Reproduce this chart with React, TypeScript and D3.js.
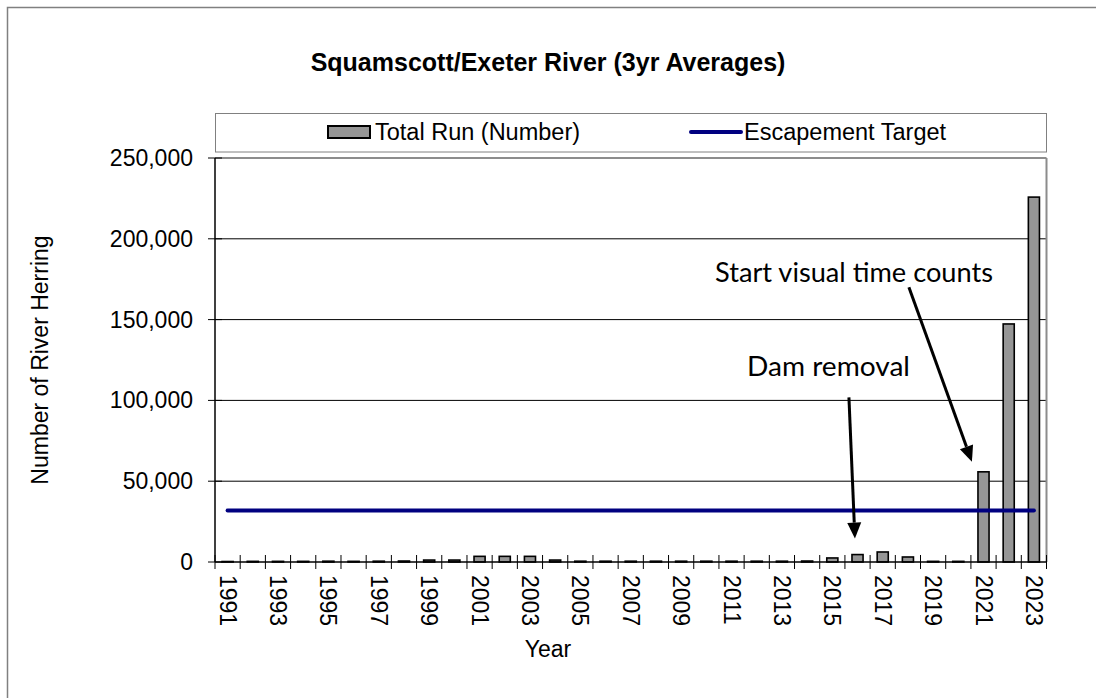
import React from "react";
import * as d3 from "d3";

const years = ["1991","1992","1993","1994","1995","1996","1997","1998","1999","2000","2001","2002","2003","2004","2005","2006","2007","2008","2009","2010","2011","2012","2013","2014","2015","2016","2017","2018","2019","2020","2021","2022","2023"];
const totalRun = [300,400,400,400,500,400,500,600,1200,1200,3500,3500,3500,1200,500,500,500,500,500,500,500,500,500,600,2500,4600,6200,3100,400,400,55800,147300,225800];
const escapementTarget = 31800;
const yTicks = [0, 50000, 100000, 150000, 200000, 250000];
const labelYears = ["1991","1993","1995","1997","1999","2001","2003","2005","2007","2009","2011","2013","2015","2017","2019","2021","2023"];

const W = 1096, H = 698;
const L = 215, R = 1046.5, T = 158, B = 562;
const FONT = "'Liberation Sans', Arial, sans-serif";
const ANN = "Lato, 'Open Sans', sans-serif";

function Arrow({ x1, y1, x2, y2 }: { x1: number; y1: number; x2: number; y2: number }) {
  const dx = x2 - x1, dy = y2 - y1;
  const len = Math.hypot(dx, dy);
  const ux = dx / len, uy = dy / len;
  const hl = 16, hw = 7;
  const bx = x2 - ux * hl, by = y2 - uy * hl;
  const p1 = [bx - uy * hw, by + ux * hw];
  const p2 = [bx + uy * hw, by - ux * hw];
  return (
    <g>
      <line x1={x1} y1={y1} x2={bx} y2={by} stroke="#000" strokeWidth={3} />
      <polygon points={`${x2},${y2} ${p1[0]},${p1[1]} ${p2[0]},${p2[1]}`} fill="#000" />
    </g>
  );
}

export default function App() {
  const xCat = d3.scaleBand<string>().domain(years).range([L, R]).padding(0);
  const x = d3.scaleBand<string>().domain(years).range([L, R]).paddingInner(0.56).paddingOuter(0.28);
  const y = d3.scaleLinear().domain([0, 250000]).range([B, T]);
  const step = xCat.step();
  const cx = (yr: string) => (xCat(yr) as number) + step / 2;
  const fmt = d3.format(",");

  const lineGen = d3.line<string>().x((d) => cx(d)).y(() => y(escapementTarget));
  const boundaries = [...years.map((yr) => xCat(yr) as number), R];

  const dTip = { x: cx("2016") - 2.6, y: y(totalRun[years.indexOf("2016")]) - 16 };
  const sTip = { x: cx("2021") - 11.6, y: y(totalRun[years.indexOf("2021")]) - 10 };

  return (
    <svg width={W} height={H} style={{ position: "absolute", left: 0, top: 0, background: "#fff" }} fontFamily={FONT}>
      <rect x={0} y={0} width={W} height={H} fill="#fff" />
      <rect x={7.5} y={7.5} width={W + 20} height={H + 20} fill="none" stroke="#808080" strokeWidth={1.5} />

      <text x={548} y={71} textAnchor="middle" fontSize={25} fontWeight="bold">Squamscott/Exeter River (3yr Averages)</text>

      {/* legend */}
      <rect x={L + 0.5} y={113.5} width={R - L - 0.5} height={38.5} fill="#fff" stroke="#808080" strokeWidth={1} />
      <rect x={328} y={126} width={42} height={12} fill="#969696" stroke="#000" strokeWidth={2} />
      <text x={375} y={132} dominantBaseline="central" fontSize={23.5}>Total Run (Number)</text>
      <line x1={691} x2={741} y1={132} y2={132} stroke="#000080" strokeWidth={4} strokeLinecap="round" />
      <text x={744} y={132} dominantBaseline="central" fontSize={23.5}>Escapement Target</text>

      {/* gridlines */}
      {yTicks.filter((t) => t > 0 && t < 250000).map((t) => (
        <line key={t} x1={L} x2={R} y1={y(t)} y2={y(t)} stroke="#000" strokeWidth={1} />
      ))}
      <line x1={L} x2={R} y1={T} y2={T} stroke="#8c8c8c" strokeWidth={2} />
      <line x1={R} x2={R} y1={T} y2={B} stroke="#8c8c8c" strokeWidth={2} />

      {/* bars */}
      {years.map((yr, i) => (
        <rect key={yr} x={x(yr)} y={y(totalRun[i])} width={x.bandwidth()} height={B - y(totalRun[i])}
          fill="#969696" stroke="#000" strokeWidth={1.6} />
      ))}

      {/* escapement line */}
      <path d={lineGen(years) as string} fill="none" stroke="#000080" strokeWidth={4} strokeLinecap="round" />

      {/* axes */}
      <line x1={L} x2={L} y1={T} y2={B} stroke="#000" strokeWidth={1.5} />
      <line x1={L} x2={R} y1={B} y2={B} stroke="#000" strokeWidth={1.5} />
      {yTicks.map((t) => (
        <g key={t}>
          <line x1={208} x2={222} y1={y(t)} y2={y(t)} stroke="#000" strokeWidth={1} />
          <text x={193} y={y(t)} textAnchor="end" dominantBaseline="central" fontSize={23}>{fmt(t)}</text>
        </g>
      ))}
      {boundaries.map((bx, i) => (
        <line key={i} x1={bx} x2={bx} y1={555} y2={569} stroke="#000" strokeWidth={1} />
      ))}
      {labelYears.map((yr) => (
        <text key={yr} transform={`translate(${cx(yr)},575) rotate(90)`} dominantBaseline="central" fontSize={23}>{yr}</text>
      ))}

      <text transform={`translate(48,${(T + B) / 2}) rotate(-90)`} textAnchor="middle" fontSize={23}>Number of River Herring</text>
      <text x={548} y={657} textAnchor="middle" fontSize={23}>Year</text>

      {/* annotations */}
      <text x={715} y={282} fontFamily={ANN} fontSize={26} textLength={278} lengthAdjust="spacingAndGlyphs">Start visual time counts</text>
      <text x={747} y={376} fontFamily={ANN} fontSize={26} textLength={163} lengthAdjust="spacingAndGlyphs">Dam removal</text>
      <Arrow x1={dTip.x - 6} y1={y(100000) - 3} x2={dTip.x} y2={dTip.y} />
      <Arrow x1={sTip.x - 63} y1={y(170000)} x2={sTip.x} y2={sTip.y} />
    </svg>
  );
}
